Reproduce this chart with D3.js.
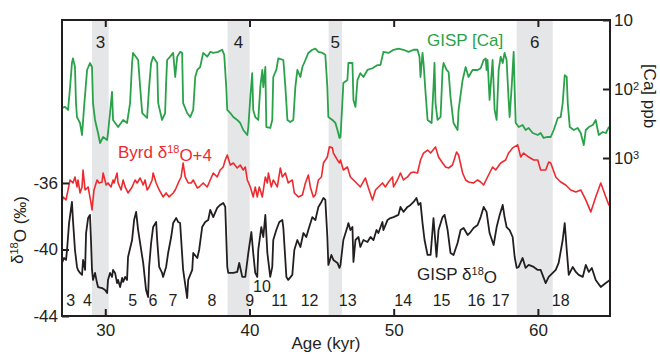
<!DOCTYPE html>
<html>
<head>
<meta charset="utf-8">
<script src="https://cdn.jsdelivr.net/npm/d3@7"></script>
<style>
  body { margin: 0; background: #fff; }
  svg { display: block; }
  text { font-family: "Liberation Sans", Arial, Helvetica, sans-serif; fill: #231f20; }
</style>
</head>
<body>
<div id="chart"></div>
<script>
// GISP [Ca] (ppb) vs age (kyr)
const gispCa = [
  [27.00,188],[27.21,182],[27.42,201],[27.56,94],[27.69,42],[27.76,36],[27.90,48],[27.97,160],[28.04,255],
  [28.25,311],[28.39,464],[28.53,182],[28.74,53],[28.94,42],[29.08,48],[29.15,160],[29.29,281],[29.50,434],
  [29.64,607],[29.85,496],[30.13,548],[30.19,434],[30.33,223],[30.47,110],[30.54,281],[30.89,356],[31.24,281],
  [31.51,311],[31.72,160],[31.86,42],[31.93,30],[32.28,38],[32.42,94],[32.56,223],[32.90,263],[33.04,94],
  [33.18,42],[33.32,34],[33.60,42],[33.67,160],[33.94,281],[34.15,223],[34.22,82],[34.29,38],[34.50,34],
  [34.71,30],[34.85,67],[34.99,34],[35.19,29],[35.33,30],[35.40,160],[35.68,223],[35.89,255],[36.10,201],
  [36.24,67],[36.38,53],[36.58,48],[36.79,30],[37.07,34],[37.28,29],[37.49,30],[37.83,29],[38.11,27],
  [38.25,32],[38.39,94],[38.46,201],[38.67,223],[38.88,255],[39.15,281],[39.36,311],[39.57,393],[39.85,464],
  [39.92,356],[40.06,131],[40.19,59],[40.26,201],[40.40,255],[40.61,281],[40.75,94],[40.89,53],[40.96,94],
  [41.10,48],[41.17,356],[41.44,367],[41.58,281],[41.65,67],[41.86,53],[42.00,36],[42.35,38],[42.49,94],
  [42.63,281],[42.83,301],[43.04,281],[43.18,94],[43.32,53],[43.53,67],[43.67,48],[43.88,38],[44.08,30],
  [44.36,27],[44.57,26],[44.78,29],[45.06,30],[45.26,32],[45.40,94],[45.47,255],[45.75,281],[45.96,311],
  [46.10,393],[46.24,513],[46.31,496],[46.44,160],[46.51,82],[46.79,74],[46.86,42],[47.14,42],[47.21,144],
  [47.35,182],[47.49,74],[47.69,59],[47.90,67],[48.18,53],[48.53,50],[48.88,45],[49.08,45],[49.29,29],
  [49.64,30],[49.99,27],[50.33,26],[50.68,27],[51.03,29],[51.38,27],[51.65,27],[51.79,34],[51.86,67],
  [52.00,30],[52.07,42],[52.21,114],[52.35,281],[52.63,311],[52.76,94],[52.83,42],[52.90,160],[53.04,281],
  [53.25,255],[53.39,53],[53.46,42],[53.67,53],[53.81,57],[53.94,131],[54.15,311],[54.43,393],[54.50,201],
  [54.78,74],[54.99,48],[55.19,67],[55.47,53],[55.82,53],[56.03,50],[56.24,38],[56.38,36],[56.44,53],
  [56.51,38],[56.65,144],[56.86,38],[57.00,201],[57.14,281],[57.28,53],[57.42,34],[57.56,42],[57.69,30],
  [57.83,38],[57.97,144],[58.04,255],[58.18,94],[58.32,29],[58.39,103],[58.46,311],[58.67,356],[58.94,333],
  [59.15,393],[59.36,367],[59.64,434],[59.99,464],[60.19,434],[60.40,513],[60.68,496],[60.89,496],[61.10,393],
  [61.38,263],[61.58,255],[61.72,160],[61.86,63],[62.00,67],[62.07,160],[62.21,356],[62.49,393],[62.76,367],
  [62.97,434],[63.18,649],[63.32,393],[63.53,356],[63.81,333],[64.01,281],[64.22,464],[64.50,420],[64.71,434],
  [64.92,356],[65.00,356]
];

// Byrd d18O + 4 (permil), as plotted
const byrdPlus4 = [
  [27.00,-37.20],[27.07,-36.84],[27.28,-37.02],[27.42,-36.42],[27.56,-35.82],[27.76,-36.00],[27.90,-35.64],
  [28.04,-36.24],[28.11,-35.82],[28.25,-36.60],[28.39,-36.24],[28.46,-35.22],[28.60,-36.42],[28.81,-36.24],
  [29.01,-37.20],[29.08,-37.62],[29.22,-36.42],[29.43,-35.82],[29.57,-36.00],[29.78,-35.94],[29.85,-35.40],
  [30.06,-36.12],[30.19,-36.00],[30.40,-36.24],[30.54,-35.82],[30.61,-36.00],[30.82,-35.40],[30.89,-36.00],
  [31.10,-36.42],[31.24,-35.82],[31.38,-36.24],[31.58,-36.60],[31.86,-36.24],[32.07,-35.82],[32.21,-36.00],
  [32.42,-35.70],[32.63,-36.12],[32.76,-35.82],[32.90,-36.42],[33.04,-36.24],[33.25,-35.82],[33.32,-35.40],
  [33.53,-36.00],[33.74,-36.42],[34.01,-36.84],[34.22,-36.60],[34.43,-36.84],[34.71,-36.60],[34.85,-36.42],
  [35.06,-36.00],[35.26,-35.64],[35.40,-34.80],[35.54,-35.64],[35.75,-36.00],[35.96,-36.00],[36.10,-35.82],
  [36.38,-36.30],[36.51,-36.24],[36.79,-36.00],[37.07,-36.24],[37.28,-35.82],[37.49,-35.40],[37.76,-35.64],
  [37.97,-35.22],[38.18,-35.04],[38.32,-34.62],[38.46,-34.32],[38.67,-34.92],[38.88,-34.80],[39.15,-35.10],
  [39.36,-34.92],[39.57,-35.22],[39.71,-35.04],[39.85,-35.82],[40.06,-36.24],[40.26,-36.84],[40.40,-36.24],
  [40.54,-36.84],[40.68,-36.24],[40.89,-36.84],[41.10,-35.64],[41.24,-36.00],[41.31,-35.40],[41.51,-36.24],
  [41.65,-35.82],[41.93,-36.24],[42.14,-35.10],[42.28,-35.64],[42.49,-35.40],[42.69,-36.00],[42.97,-35.82],
  [43.11,-36.60],[43.39,-36.84],[43.67,-36.72],[43.88,-36.00],[44.08,-35.52],[44.22,-36.24],[44.43,-36.84],
  [44.57,-36.72],[44.78,-35.82],[44.99,-35.64],[45.13,-34.80],[45.40,-34.44],[45.54,-33.83],[45.75,-33.89],
  [45.82,-34.20],[46.10,-34.62],[46.24,-34.80],[46.31,-34.62],[46.51,-35.22],[46.79,-35.04],[47.00,-35.64],
  [47.35,-35.94],[47.69,-36.24],[48.04,-35.70],[48.25,-36.30],[48.53,-37.02],[48.74,-36.42],[48.94,-36.24],
  [49.22,-36.00],[49.43,-36.24],[49.64,-35.94],[49.92,-35.64],[49.99,-36.24],[50.26,-35.82],[50.47,-35.40],
  [50.68,-35.82],[50.96,-35.64],[51.17,-35.40],[51.38,-35.34],[51.65,-35.40],[51.86,-34.62],[52.07,-34.20],
  [52.35,-34.02],[52.56,-34.20],[52.90,-33.83],[53.11,-34.44],[53.39,-34.80],[53.60,-35.04],[53.81,-35.10],
  [54.08,-34.92],[54.36,-34.14],[54.50,-34.32],[54.78,-35.40],[54.99,-35.82],[55.19,-35.94],[55.54,-36.00],
  [55.82,-35.82],[56.03,-35.94],[56.24,-36.12],[56.51,-35.64],[56.86,-35.04],[57.07,-35.22],[57.42,-34.80],
  [57.76,-34.62],[57.97,-34.20],[58.25,-33.89],[58.60,-33.71],[58.81,-34.44],[59.01,-34.20],[59.36,-34.44],
  [59.71,-34.62],[59.99,-34.62],[60.19,-35.22],[60.54,-35.22],[60.75,-34.74],[60.89,-34.80],[61.24,-35.64],
  [61.58,-35.94],[61.93,-36.12],[62.28,-36.42],[62.63,-36.54],[62.97,-36.42],[63.32,-37.02],[63.67,-37.74],
  [64.01,-36.84],[64.36,-36.00],[64.71,-36.84],[64.92,-37.32],[65.00,-37.20]
];

// GISP d18O (permil)
const gispD18O = [
  [27.00,-40.81],[27.14,-40.51],[27.28,-40.63],[27.35,-40.03],[27.49,-38.41],[27.69,-37.14],[27.76,-38.23],
  [27.90,-40.03],[28.04,-41.05],[28.11,-41.23],[28.25,-41.41],[28.39,-41.53],[28.46,-40.63],[28.60,-41.23],
  [28.67,-39.01],[28.81,-38.11],[28.94,-37.92],[29.01,-39.43],[29.08,-41.23],[29.15,-41.83],[29.29,-41.41],
  [29.43,-42.02],[29.50,-42.26],[29.78,-42.32],[29.99,-42.44],[30.13,-42.62],[30.19,-41.83],[30.33,-41.41],
  [30.47,-41.65],[30.54,-41.23],[30.68,-41.41],[30.82,-42.02],[30.89,-41.83],[31.03,-42.26],[31.17,-41.71],
  [31.24,-41.95],[31.38,-41.65],[31.51,-41.83],[31.58,-40.45],[31.86,-39.43],[32.00,-38.23],[32.14,-37.74],
  [32.28,-38.83],[32.49,-40.03],[32.63,-40.81],[32.83,-42.44],[32.97,-42.86],[33.04,-41.05],[33.18,-39.61],
  [33.32,-38.65],[33.53,-38.35],[33.60,-39.43],[33.74,-41.05],[33.94,-41.41],[34.01,-41.65],[34.22,-41.05],
  [34.36,-40.21],[34.57,-39.25],[34.71,-38.41],[34.92,-38.11],[35.06,-38.35],[35.19,-38.41],[35.40,-41.23],
  [35.68,-42.92],[35.75,-41.83],[36.03,-41.23],[36.10,-40.21],[36.38,-40.51],[36.51,-40.03],[36.72,-38.65],
  [36.93,-38.35],[37.14,-38.23],[37.28,-37.62],[37.49,-38.05],[37.76,-37.50],[37.97,-37.32],[38.18,-37.20],
  [38.32,-37.44],[38.46,-41.05],[38.53,-41.41],[38.88,-41.41],[39.15,-41.35],[39.29,-40.81],[39.50,-41.65],
  [39.71,-41.65],[39.92,-40.21],[40.13,-38.95],[40.26,-40.21],[40.40,-41.41],[40.54,-41.65],[40.61,-40.03],
  [40.82,-38.65],[40.96,-39.25],[41.10,-37.92],[41.24,-40.21],[41.44,-41.65],[41.58,-41.05],[41.65,-39.43],
  [41.86,-38.83],[42.07,-38.35],[42.28,-38.23],[42.35,-38.71],[42.56,-41.65],[42.69,-41.83],[42.97,-41.53],
  [43.11,-40.03],[43.32,-39.43],[43.53,-39.85],[43.74,-39.01],[43.94,-39.25],[44.08,-38.83],[44.36,-38.05],
  [44.57,-38.23],[44.78,-37.44],[44.99,-37.14],[45.13,-36.90],[45.26,-37.02],[45.40,-39.25],[45.47,-40.93],
  [45.68,-40.33],[45.82,-40.63],[46.10,-40.81],[46.24,-41.11],[46.31,-40.93],[46.51,-39.43],[46.79,-38.65],
  [46.86,-38.41],[47.00,-38.83],[47.14,-38.65],[47.21,-40.75],[47.35,-39.43],[47.56,-39.25],[47.69,-39.85],
  [47.90,-39.43],[48.18,-39.55],[48.39,-39.25],[48.60,-39.43],[48.81,-38.83],[48.94,-39.01],[49.22,-38.35],
  [49.29,-38.83],[49.57,-38.23],[49.78,-38.11],[49.99,-38.05],[50.33,-37.92],[50.47,-37.44],[50.68,-37.74],
  [50.96,-37.44],[51.17,-37.32],[51.38,-37.14],[51.58,-36.90],[51.72,-37.32],[51.86,-37.20],[52.00,-38.41],
  [52.14,-39.43],[52.35,-40.33],[52.56,-40.33],[52.76,-38.11],[52.97,-40.45],[53.11,-38.83],[53.39,-38.05],
  [53.53,-37.92],[53.74,-38.83],[53.94,-40.21],[54.15,-40.33],[54.43,-39.61],[54.64,-38.83],[54.85,-38.71],
  [55.13,-39.13],[55.33,-38.95],[55.54,-38.71],[55.82,-38.53],[56.03,-38.05],[56.24,-37.44],[56.44,-37.74],
  [56.65,-39.01],[56.93,-39.73],[57.14,-38.65],[57.35,-37.92],[57.56,-37.32],[57.69,-38.05],[57.83,-38.65],
  [58.04,-38.83],[58.25,-39.25],[58.39,-40.45],[58.53,-41.11],[58.67,-41.05],[58.94,-40.51],[59.15,-41.11],
  [59.36,-40.93],[59.71,-41.05],[59.99,-41.23],[60.19,-41.23],[60.54,-42.02],[60.75,-41.65],[61.03,-41.41],
  [61.24,-41.23],[61.44,-40.81],[61.72,-39.43],[61.86,-38.41],[62.00,-40.03],[62.14,-41.53],[62.42,-41.05],
  [62.63,-41.35],[62.83,-41.53],[63.11,-41.65],[63.32,-40.93],[63.53,-41.35],[63.74,-41.11],[64.01,-41.83],
  [64.36,-42.26],[64.71,-42.02],[65.00,-41.83]
];

// Heinrich events (grey bands)
const heinrichLabels = ["3", "4", "5", "6"];
const heinrichSpans = [[29.08, 30.24], [38.48, 40.01], [45.49, 46.42], [58.53, 61.03]];

// Dansgaard-Oeschger interstadial numbers
const doLabels = ["3","4","5","6","7","8","9","10","11","12","13","14","15","16","17","18"];
const doAges = [27.60, 28.76, 31.91, 33.30, 34.69, 37.40, 40.01, 40.87, 42.09, 44.17, 46.81, 50.66, 53.32, 55.73, 57.42, 61.58];

// axis ticks
const ageTicks = [30, 40, 50, 60];
const d18oTicks = [-36, -40, -44];
const caTicks = [10, 100, 1000];
const caTickExp = ["", "2", "3"];

const width = 660, height = 354;
const plot = { left: 62, right: 610, top: 20, bottom: 316 };

const svg = d3.select("#chart").append("svg")
  .attr("width", width)
  .attr("height", height);

const x = d3.scaleLinear().domain([27, 65]).range([plot.left, plot.right]);
const yD = d3.scaleLinear().domain([-44, -26.2]).range([plot.bottom, plot.top]);
const yCa = d3.scaleLog().domain([10, 1000]).range([plot.top, 158]);

const green = "#2ba24a", red = "#ee2a2f", black = "#231f20";

// grey bands
svg.selectAll(".band")
  .data(heinrichSpans)
  .enter().append("rect")
  .attr("class", "band")
  .attr("x", d => x(d[0]))
  .attr("y", plot.top)
  .attr("width", d => x(d[1]) - x(d[0]))
  .attr("height", plot.bottom - plot.top)
  .attr("fill", "#e5e6e8");

svg.selectAll(".band-label")
  .data(heinrichSpans)
  .enter().append("text")
  .attr("class", "band-label")
  .attr("x", d => x((d[0] + d[1]) / 2))
  .attr("y", 48)
  .attr("text-anchor", "middle")
  .style("font-size", "17px")
  .text((d, i) => heinrichLabels[i]);

// series
const clip = svg.append("clipPath").attr("id", "clip")
  .append("rect")
  .attr("x", plot.left).attr("y", plot.top)
  .attr("width", plot.right - plot.left).attr("height", plot.bottom - plot.top);

const lineCa = d3.line().x(d => x(d[0])).y(d => yCa(d[1]));
const lineD = d3.line().x(d => x(d[0])).y(d => yD(d[1]));

const series = svg.append("g").attr("clip-path", "url(#clip)");
series.append("path").datum(gispCa)
  .attr("d", lineCa).attr("fill", "none")
  .attr("stroke", green).attr("stroke-width", 1.8).attr("stroke-linejoin", "round");
series.append("path").datum(byrdPlus4)
  .attr("d", lineD).attr("fill", "none")
  .attr("stroke", red).attr("stroke-width", 1.6).attr("stroke-linejoin", "round");
series.append("path").datum(gispD18O)
  .attr("d", lineD).attr("fill", "none")
  .attr("stroke", black).attr("stroke-width", 1.8).attr("stroke-linejoin", "round");

// axes (ticks pointing inward)
const axisStyle = g => {
  g.select(".domain").remove();
  g.selectAll(".tick line").attr("stroke", black).attr("stroke-width", 2);
  g.selectAll(".tick text").style("font-size", "17px").attr("fill", black);
};

svg.append("g")
  .attr("transform", `translate(0,${plot.bottom})`)
  .call(d3.axisBottom(x).tickValues(ageTicks).tickSizeInner(-7).tickSizeOuter(0).tickPadding(8))
  .call(axisStyle);

svg.append("g")
  .attr("transform", `translate(0,${plot.top})`)
  .call(d3.axisTop(x).tickValues(ageTicks).tickSizeInner(-7).tickSizeOuter(0).tickFormat(""))
  .call(axisStyle);

svg.append("g")
  .attr("transform", `translate(${plot.left},0)`)
  .call(d3.axisLeft(yD).tickValues(d18oTicks).tickSizeInner(-7).tickSizeOuter(0).tickPadding(4).tickFormat(d => String(d)))
  .call(axisStyle);

const rightAxis = svg.append("g")
  .attr("transform", `translate(${plot.right},0)`)
  .call(d3.axisRight(yCa).tickValues(caTicks).tickSizeInner(-7).tickSizeOuter(0).tickPadding(4).tickFormat(""))
  .call(axisStyle);

rightAxis.selectAll(".tick text").each(function (d, i) {
  const t = d3.select(this).text(null).attr("dy", "0.32em");
  t.append("tspan").text(i === 0 ? "10" : "10");
  if (caTickExp[i]) {
    t.append("tspan").attr("dy", "-0.45em").style("font-size", "11px").text(caTickExp[i]);
  }
});

// frame
svg.append("rect")
  .attr("x", plot.left).attr("y", plot.top)
  .attr("width", plot.right - plot.left).attr("height", plot.bottom - plot.top)
  .attr("fill", "none").attr("stroke", black).attr("stroke-width", 2);

// D-O numbers
svg.selectAll(".do-label")
  .data(doAges)
  .enter().append("text")
  .attr("class", "do-label")
  .attr("x", d => x(d))
  .attr("y", (d, i) => doLabels[i] === "10" ? 292 : 306)
  .attr("text-anchor", "middle")
  .style("font-size", "16px")
  .text((d, i) => doLabels[i]);

// series labels
const caLabel = svg.append("text").attr("x", 427).attr("y", 46)
  .style("font-size", "17px").style("fill", green).text("GISP [Ca]");

const byrdLabel = svg.append("text").attr("x", 118).attr("y", 158)
  .style("font-size", "17px").style("fill", red);
byrdLabel.append("tspan").text("Byrd δ");
byrdLabel.append("tspan").attr("dy", "-0.45em").style("font-size", "11px").text("18");
byrdLabel.append("tspan").attr("dy", "0.45em").text("O+4");

const gispLabel = svg.append("text").attr("x", 417).attr("y", 280)
  .style("font-size", "17px");
gispLabel.append("tspan").text("GISP δ");
gispLabel.append("tspan").attr("dy", "-0.45em").style("font-size", "11px").text("18");
gispLabel.append("tspan").attr("dy", "0.45em").text("O");

// axis titles
svg.append("text")
  .attr("x", (plot.left + plot.right) / 2 - 10).attr("y", 349)
  .attr("text-anchor", "middle")
  .style("font-size", "17px")
  .text("Age (kyr)");

const yTitle = svg.append("text")
  .attr("transform", "translate(23,230) rotate(-90)")
  .attr("text-anchor", "middle")
  .style("font-size", "17px");
yTitle.append("tspan").text("δ");
yTitle.append("tspan").attr("dy", "-0.45em").style("font-size", "11px").text("18");
yTitle.append("tspan").attr("dy", "0.45em").text("O (‰)");

svg.append("text")
  .attr("transform", "translate(644,96) rotate(90)")
  .attr("text-anchor", "middle")
  .style("font-size", "17px")
  .text("[Ca] ppb");
</script>
</body>
</html>
